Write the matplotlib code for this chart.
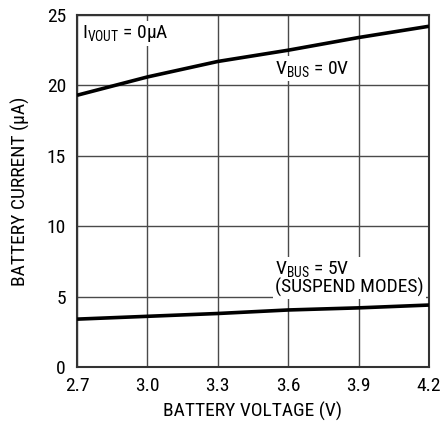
import matplotlib.pyplot as plt
from matplotlib import font_manager

# battery voltage sample points (V)
battery_voltage = [2.7, 3.0, 3.3, 3.6, 3.9, 4.2]
# battery current (uA)
current_vbus_0v = [19.3, 20.6, 21.7, 22.5, 23.4, 24.2]
current_vbus_5v = [3.4, 3.6, 3.8, 4.05, 4.2, 4.4]

x_ticks = [2.7, 3.0, 3.3, 3.6, 3.9, 4.2]
x_tick_labels = ['2.7', '3.0', '3.3', '3.6', '3.9', '4.2']
y_ticks = [0, 5, 10, 15, 20, 25]

# condensed sans to mimic the datasheet look
names = {f.name for f in font_manager.fontManager.ttflist}
family = 'Liberation Sans'
for cand in ['Roboto Condensed', 'Archivo Narrow', 'PT Sans Narrow', 'Liberation Sans Narrow']:
    if cand in names:
        family = cand
        break
plt.rcParams['font.family'] = [family, 'DejaVu Sans']
plt.rcParams['mathtext.fontset'] = 'custom'
plt.rcParams['mathtext.rm'] = family
plt.rcParams['mathtext.it'] = family

fs = 14

fig = plt.figure(figsize=(4.43, 4.23), dpi=100)
ax = fig.add_axes([77 / 443, 1 - 367 / 423, 352 / 443, 352 / 423])

ax.plot(battery_voltage, current_vbus_0v, color='black', linewidth=2.6, solid_capstyle='butt', zorder=3)
ax.plot(battery_voltage, current_vbus_5v, color='black', linewidth=2.6, solid_capstyle='butt', zorder=3)

ax.set_xlim(2.7, 4.2)
ax.set_ylim(0, 25)
ax.set_xticks(x_ticks)
ax.set_xticklabels(x_tick_labels)
ax.set_yticks(y_ticks)
ax.tick_params(axis='x', length=0, labelsize=fs, pad=7)
ax.tick_params(axis='y', length=0, labelsize=fs, pad=8)
ax.grid(True, color='#4a4a4a', linewidth=1.0)
ax.set_axisbelow(True)
for s in ax.spines.values():
    s.set_linewidth(1.5)
    s.set_color('#333333')

ax.set_xlabel('BATTERY VOLTAGE (V)', fontsize=fs, labelpad=5)
ax.set_ylabel('BATTERY CURRENT (µA)', fontsize=fs, labelpad=12)

box = dict(facecolor='white', edgecolor='none', pad=1.5)
ax.text(2.722, 23.7, r'I$_{\mathrm{VOUT}}$ = 0µA', fontsize=fs, va='center', ha='left', bbox=box, zorder=2)
ax.text(3.545, 21.2, r'V$_{\mathrm{BUS}}$ = 0V', fontsize=fs, va='center', ha='left', bbox=box, zorder=2)
ax.text(3.545, 6.3, 'V$_{\\mathrm{BUS}}$ = 5V\n(SUSPEND MODES)', fontsize=fs, va='center', ha='left',
        linespacing=0.9, bbox=box, zorder=2)

fig.savefig('out.png', dpi=100)
